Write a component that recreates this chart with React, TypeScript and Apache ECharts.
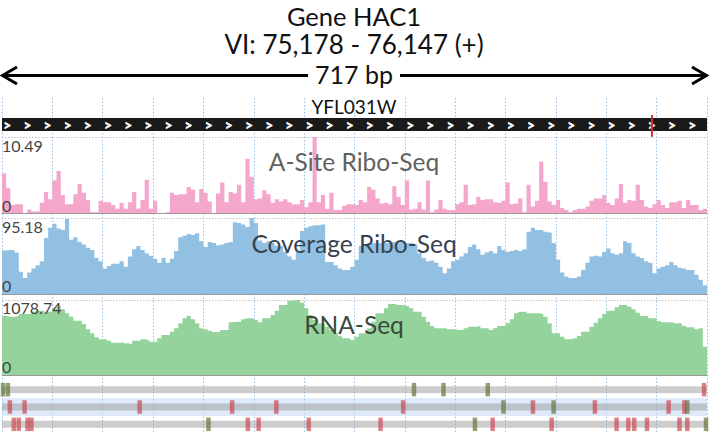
import React, { useEffect, useRef } from "react";
import * as echarts from "echarts";

const GENE_TITLE = "Gene HAC1";
const LOCATION = "VI: 75,178 - 76,147 (+)";
const GENE_LENGTH = 717;
const LENGTH_LABEL = "717 bp";
const ORF_NAME = "YFL031W";
const MARKER_BP = 661;
const CHEVRON_COUNT = 35;
const GRID_DIVISIONS = 14;

const aSiteTitle = "A-Site Ribo-Seq";
const coverageTitle = "Coverage Ribo-Seq";
const rnaTitle = "RNA-Seq";

const aSiteMax = 10.49;
const coverageMax = 95.18;
const rnaMax = 1078.74;

const aSite = [
  5.5, 3.4, 1.1, 1.2, 1.2, 0, 0.5, 0.2, 0.2, 1.4,
  2.9, 1.9, 4.5, 5.8, 2.5, 1.2, 1.2, 2.6, 4.0, 2.8,
  1.8, 0.1, 0.1, 1.7, 1.5, 1.5, 1.1, 0.6, 1.4, 0.6,
  1.5, 2.9, 0.6, 1.8, 4.6, 0.6, 1.7, 0, 0, 0.1,
  2.8, 2.5, 2.6, 2.6, 3.6, 3.2, 1.5, 3.3, 2.8, 1.6,
  0, 2.7, 4.2, 1.5, 2.9, 2.7, 3.9, 1.5, 7.5, 5.0,
  1.9, 2.0, 3.1, 2.6, 1.4, 1.9, 1.6, 1.9, 1.5, 1.2,
  1.2, 1.8, 0.8, 1.5, 10.49, 1.5, 2.5, 0.6, 2.8, 0.4,
  0.4, 1.0, 1.2, 1.2,
  1.1, 1.8, 1.5, 3.6, 3.2, 2.0, 1.3, 1.4, 1.2, 3.7,
  2.2, 1.1, 4.5, 0.5, 0.6, 1.5, 0.5, 4.5, 0.1, 0.5,
  1.8, 0.6, 0.4, 0.4, 1.2, 1.5, 3.9, 1.1, 1.2, 2.2,
  1.8, 1.9, 1.9, 1.5, 1.4, 1.7, 4.2, 1.2, 1.3, 2.0,
  0.1, 3.9, 0.9, 1.7, 7.1, 4.3, 1.6, 1.1, 1.8, 0.7,
  0.4, 0.1, 0.4, 0.6, 0.6, 0.9, 1.7, 2.0, 2.0, 2.5,
  1.4, 1.1, 2.0, 4.0, 1.4, 1.8, 1.7, 3.9, 1.8, 0.9,
  0.7, 1.2, 1.8, 1.1, 0.7, 1.5, 1.5, 1.7, 0.7, 1.8,
  1.1, 1.1, 0.4, 0.6,
];

const coverage = [
  54.5, 55, 55, 52, 28, 20, 27, 32, 36, 41,
  70, 83, 88, 82, 80, 94, 68, 71, 65, 62,
  58, 55, 45, 41, 32, 35, 38, 38, 41, 34,
  47, 56, 60, 55, 51, 48, 44, 39, 45, 39,
  44, 54, 71, 73, 75, 74, 76, 66, 59, 65,
  64, 61, 62, 64, 65, 90, 89, 87, 84, 95.18,
  89, 67, 64, 66, 64, 60, 60, 53, 47, 43,
  53, 79, 83, 85, 86, 86, 87, 40, 40, 36,
  32, 30, 30, 34,
  43, 60, 62, 64, 64, 64, 64, 64, 64, 65,
  65, 65, 64, 64, 62, 51, 45, 41, 42, 39,
  34, 26, 32, 41, 43, 47, 51, 59, 62, 56,
  49, 52, 54, 51, 60, 55, 53, 54, 55, 54,
  56, 78, 83, 80, 80, 78, 77, 64, 43, 27,
  22, 20, 20, 22, 30, 39, 47, 48, 47, 53,
  57, 51, 49, 51, 66, 64, 51, 47, 45, 41,
  39, 26, 32, 34, 36, 40, 36, 33, 32, 30,
  30, 24, 18, 11,
];

const rna = [
  849, 839, 839, 849, 877, 877, 877, 911, 925, 925,
  911, 911, 959, 992, 944, 887, 839, 781, 781, 733,
  657, 599, 542, 513, 513, 494, 465, 465, 470, 455,
  446, 494, 494, 513, 503, 479, 479, 527, 575, 575,
  623, 671, 743, 815, 849, 801, 743, 671, 657, 638,
  618, 618, 647, 647, 757, 767, 767, 801, 815, 815,
  791, 757, 815, 815, 863, 925, 1007, 1007, 1069, 1078.74,
  1078, 1040, 959, 863, 791, 743, 743, 695, 647, 599,
  566, 527, 527, 503,
  551, 599, 599, 671, 767, 887, 887, 959, 1021, 1021,
  1007, 1007, 992, 959, 911, 911, 839, 767, 705, 671,
  671, 671, 657, 657, 647, 647, 671, 695, 695, 705,
  671, 671, 647, 671, 705, 705, 743, 801, 887, 911,
  911, 887, 887, 887, 877, 839, 743, 599, 599, 551,
  513, 513, 527, 561, 623, 623, 695, 753, 815, 877,
  925, 925, 973, 1007, 1007, 983, 944, 897, 849, 849,
  815, 815, 777, 757, 757, 757, 743, 743, 709, 686,
  686, 657, 671, 408,
];

// variant rows (bp positions)
const row1Green = [1, 6, 419, 449, 494];
const row1Red = [714];
const row2Red = [8, 23, 140, 234, 279, 408, 540, 603, 678, 694];
const row2Green = [510, 561, 697];
const row3Red = [12, 17, 26, 30, 250, 261, 312, 385, 499, 559, 625, 637, 643, 656, 689, 697];
const row3Green = [210, 481, 716];
const rowHighlight = [0, 1, 0];

const BIN_COUNT = aSite.length;

const FONT = "Lato, 'Noto Sans', sans-serif";

function txt(text: string, x: number, y: number, size: number, fill: string, align = "center") {
  return {
    type: "text",
    x,
    y,
    z: 100,
    silent: true,
    style: {
      text,
      fill,
      font: `${size}px ${FONT}`,
      align,
      textAlign: align,
      verticalAlign: "middle",
      textVerticalAlign: "middle",
    },
  };
}

// step points: each bin drawn from its left edge to the next one
function stepPoints(values: number[]) {
  const pts = values.map((v, i) => [i, v]);
  pts.push([values.length, values[values.length - 1]]);
  return pts;
}

export default function App() {
  const ref = useRef<HTMLDivElement>(null);

  useEffect(() => {
    document.body.style.margin = "0";
    const chart = echarts.init(ref.current!, null, { renderer: "svg" });

    const trackX = (idx: number) => ({
      type: "value",
      gridIndex: idx,
      min: 0,
      max: BIN_COUNT,
      axisTick: { show: false },
      axisLabel: { show: false },
      axisLine: { show: true, lineStyle: { color: "#9a9a9a", width: 1 } },
      splitLine: { show: false },
    });
    const trackY = (idx: number, max: number) => ({
      type: "value",
      gridIndex: idx,
      min: 0,
      max,
      interval: max,
      axisLabel: { show: false },
      axisTick: { show: false },
      axisLine: { show: false },
      splitLine: { show: true, lineStyle: { color: "#c4c4c4", type: [1.5, 1.5], width: 1 } },
    });
    const hiddenValue = (idx: number, min: number, max: number, extra: any = {}) => ({
      type: "value",
      gridIndex: idx,
      min,
      max,
      show: false,
      splitLine: { show: false },
      ...extra,
    });

    const trackArea = (idx: number, data: number[], color: string) => ({
      type: "line",
      xAxisIndex: idx,
      yAxisIndex: idx,
      data: stepPoints(data),
      step: "end",
      showSymbol: false,
      symbol: "none",
      silent: true,
      lineStyle: { width: 0, color },
      itemStyle: { color },
      areaStyle: { color, opacity: 1 },
    });

    const markerPoints = (rows: number[][]) =>
      rows.flatMap((arr, r) => arr.map((bp) => [bp, r + 0.5]));

    const chevronBp = Array.from({ length: CHEVRON_COUNT }, (_, k) => 5.4 + (k * GENE_LENGTH) / CHEVRON_COUNT);

    const option: any = {
      animation: false,
      grid: [
        { left: 2, right: 2, top: 98, bottom: 0 },
        { left: 2, right: 2, top: 118, height: 13 },
        { left: 2, right: 2, top: 137, height: 76 },
        { left: 2, right: 2, top: 218, height: 76 },
        { left: 2, right: 2, top: 300, height: 75 },
        { left: 2, right: 2, top: 381, height: 53 },
      ],
      xAxis: [
        {
          type: "value",
          gridIndex: 0,
          min: 0,
          max: GRID_DIVISIONS,
          interval: 1,
          axisLine: { show: false },
          axisTick: { show: false },
          axisLabel: { show: false },
          splitLine: { show: true, lineStyle: { color: "#9cc2e5", type: [1.5, 2], width: 1 } },
        },
        hiddenValue(1, 0, GENE_LENGTH),
        trackX(2),
        trackX(3),
        trackX(4),
        hiddenValue(5, 0, GENE_LENGTH),
      ],
      yAxis: [
        hiddenValue(0, 0, 1),
        hiddenValue(1, 0, 1),
        trackY(2, aSiteMax),
        trackY(3, coverageMax),
        trackY(4, rnaMax),
        hiddenValue(5, 0, 3, { inverse: true }),
      ],
      series: [
        {
          type: "custom",
          xAxisIndex: 1,
          yAxisIndex: 1,
          silent: true,
          data: [[0, GENE_LENGTH]],
          renderItem: (params: any, api: any) => {
            const tl = api.coord([api.value(0), 1]);
            const br = api.coord([api.value(1), 0]);
            const children: any[] = [
              {
                type: "rect",
                shape: { x: tl[0], y: tl[1], width: br[0] - tl[0], height: br[1] - tl[1] },
                style: { fill: "#1a1a1a" },
              },
            ];
            chevronBp.forEach((bp) => {
              const p = api.coord([bp, 0.5]);
              children.push({
                type: "text",
                style: {
                  text: ">",
                  x: p[0],
                  y: p[1],
                  fill: "#ffffff",
                  stroke: "#ffffff",
                  lineWidth: 0.7,
                  font: `bold 13px ${FONT}`,
                  align: "center",
                  verticalAlign: "middle",
                },
              });
            });
            const a = api.coord([MARKER_BP, 1.23]);
            const b = api.coord([MARKER_BP, -0.44]);
            children.push({
              type: "line",
              shape: { x1: a[0], y1: a[1], x2: b[0], y2: b[1] },
              style: { stroke: "#c8323c", lineWidth: 2 },
            });
            return { type: "group", children };
          },
        },
        trackArea(2, aSite, "#f4a7cb"),
        trackArea(3, coverage, "#92c0e3"),
        trackArea(4, rna, "#94d39b"),
        {
          type: "custom",
          xAxisIndex: 5,
          yAxisIndex: 5,
          silent: true,
          data: rowHighlight.map((h, r) => [r, h]),
          renderItem: (params: any, api: any) => {
            const r = api.value(0);
            const h = api.value(1);
            const l = api.coord([0, r + 0.5]);
            const rr = api.coord([GENE_LENGTH, r + 0.5]);
            const children: any[] = [];
            if (h) {
              children.push({
                type: "rect",
                shape: { x: l[0], y: l[1] - 9, width: rr[0] - l[0], height: 18 },
                style: { fill: "rgba(190,214,240,0.5)" },
              });
            }
            children.push({
              type: "rect",
              shape: { x: l[0], y: l[1] - 3.5, width: rr[0] - l[0], height: 7 },
              style: { fill: "rgba(150,150,150,0.48)" },
            });
            return { type: "group", children };
          },
        },
        {
          type: "scatter",
          xAxisIndex: 5,
          yAxisIndex: 5,
          silent: true,
          symbol: "rect",
          symbolSize: [4.5, 13.5],
          itemStyle: { color: "rgba(201,62,72,0.82)" },
          data: markerPoints([row1Red, row2Red, row3Red]),
        },
        {
          type: "scatter",
          xAxisIndex: 5,
          yAxisIndex: 5,
          silent: true,
          symbol: "rect",
          symbolSize: [4.5, 13.5],
          itemStyle: { color: "rgba(95,115,55,0.85)" },
          data: markerPoints([row1Green, row2Green, row3Green]),
        },
      ],
      graphic: {
        elements: [
          txt(GENE_TITLE, 354, 15.5, 25.5, "#111"),
          txt(LOCATION, 354, 44, 26, "#111"),
          txt(LENGTH_LABEL, 354, 74, 25, "#111"),
          {
            type: "line",
            z: 100,
            shape: { x1: 3, y1: 75.5, x2: 308, y2: 75.5 },
            style: { stroke: "#000", lineWidth: 3 },
          },
          {
            type: "line",
            z: 100,
            shape: { x1: 400, y1: 75.5, x2: 706, y2: 75.5 },
            style: { stroke: "#000", lineWidth: 3 },
          },
          {
            type: "polyline",
            z: 100,
            shape: { points: [[17, 67], [2.5, 75.5], [17, 84]] },
            style: { stroke: "#000", lineWidth: 3, fill: "none" },
          },
          {
            type: "polyline",
            z: 100,
            shape: { points: [[692, 67], [706.5, 75.5], [692, 84]] },
            style: { stroke: "#000", lineWidth: 3, fill: "none" },
          },
          txt(ORF_NAME, 354, 106, 19, "#111"),
          txt(aSiteTitle, 354, 161, 24.5, "#616161"),
          txt(coverageTitle, 354, 243, 24.5, "#36434f"),
          txt(rnaTitle, 354, 324, 24.5, "#3a4a3c"),
          txt(String(aSiteMax), 2, 145, 16, "#444", "left"),
          txt("0", 2, 205, 16, "#444", "left"),
          txt(String(coverageMax), 2, 226, 16, "#444", "left"),
          txt("0", 2, 285.5, 16, "#444", "left"),
          txt(String(rnaMax), 2, 307, 16, "#444", "left"),
          txt("0", 2, 366.5, 16, "#444", "left"),
        ],
      },
    };

    chart.setOption(option);
    return () => chart.dispose();
  }, []);

  return (
    <div
      ref={ref}
      style={{ position: "absolute", left: 0, top: 0, width: 709, height: 433 }}
    />
  );
}
